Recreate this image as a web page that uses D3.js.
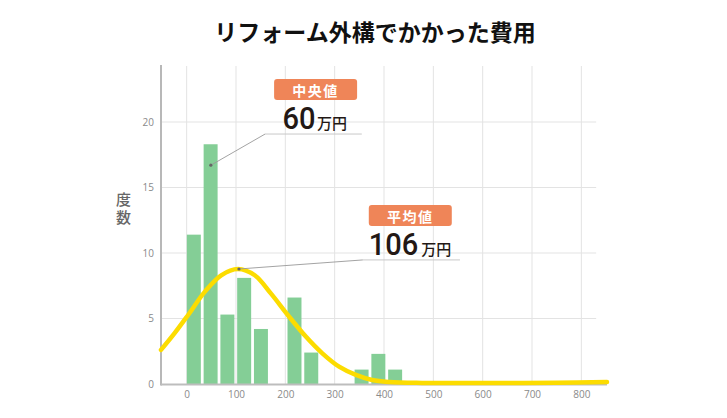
<!DOCTYPE html>
<html><head><meta charset="utf-8">
<script src="https://cdn.jsdelivr.net/npm/d3@7/dist/d3.min.js"></script>
<style>body{margin:0;background:#fff}svg{display:block}</style>
</head><body>
<svg id="c" width="727" height="418"></svg>
<script>
const title = "リフォーム外構でかかった費用";
const yLabel = "度数";
const xTicks = [0,100,200,300,400,500,600,700,800];
const yTicks = [0,5,10,15,20];
const binWidth = 34;
const binStarts = [0,34,68,102,136,170,204,238,272,306,340,374,408];
const binCounts = [11.4,18.3,5.3,8.1,4.2,0,6.6,2.4,0,0,1.1,2.3,1.1];
const curveX = [-52,-24,3,37,70,104,138,171,205,242,275,309,343,376,410,477,550,650,750,852];
const curveY = [2.6,3.9,5.27,7.05,8.3,8.78,8.3,6.9,5.27,3.6,2.34,1.32,0.69,0.3,0.15,0.08,0.07,0.08,0.1,0.15];
const annLabels = ["中央値","平均値"];
const annValues = ["60","106"];
const annUnits = ["万円","万円"];
const annDotX = [49,106];
const annDotY = [16.7,8.78];
const annElbowX = [159,357];
const annElbowY = [19.08,9.47];
const annEndX = [355,554];

const svg = d3.select("#c");
const L = 161, R = 607, T = 65, B = 384;
const x = d3.scaleLinear().domain([-52,852]).range([L,R]);
const y = d3.scaleLinear().domain([0,24.35]).range([B,T]);

// title
svg.append("text").attr("x",375).attr("y",31).attr("text-anchor","middle")
  .attr("dominant-baseline","central")
  .style("font-family","'Noto Sans CJK JP','Noto Sans',sans-serif")
  .style("font-weight","700").style("font-size","23px").attr("fill","#111").text(title);

// grid
const g = svg.append("g");
g.selectAll(".vg").data(xTicks).join("line")
  .attr("x1",d=>x(d)).attr("x2",d=>x(d)).attr("y1",B).attr("y2",T+1)
  .attr("stroke","#e3e3e3").attr("stroke-width",1);
g.selectAll(".hg").data(yTicks.filter(d=>d>0)).join("line")
  .attr("x1",L).attr("x2",x(830)).attr("y1",d=>y(d)).attr("y2",d=>y(d))
  .attr("stroke","#e3e3e3").attr("stroke-width",1);

// bars
svg.append("g").selectAll("rect").data(binStarts.map((s,i)=>({s,c:binCounts[i]})).filter(d=>d.c>0))
  .join("rect")
  .attr("x",d=>x(d.s)+0.2).attr("width",d=>x(d.s+binWidth)-x(d.s)-2.8)
  .attr("y",d=>y(d.c)).attr("height",d=>B-y(d.c)).attr("fill","#84ce96");

// axes lines
svg.append("line").attr("x1",L).attr("x2",L).attr("y1",T).attr("y2",B+1.5)
  .attr("stroke","#b8b8b8").attr("stroke-width",2);
svg.append("line").attr("x1",L).attr("x2",R).attr("y1",B+0.5).attr("y2",B+0.5)
  .attr("stroke","#bdbdbd").attr("stroke-width",2);

// tick labels via axes
const xa = svg.append("g").attr("transform",`translate(0,${B})`)
  .call(d3.axisBottom(x).tickValues(xTicks).tickSize(0).tickPadding(7));
const ya = svg.append("g").attr("transform",`translate(${L-7},0)`)
  .call(d3.axisLeft(y).tickValues(yTicks).tickSize(0).tickPadding(0));
[xa,ya].forEach(a=>{
  a.select(".domain").remove();
  a.selectAll("text").style("font-family","'Open Sans','Noto Sans',sans-serif")
    .style("font-size","10px").attr("fill","#8a8a8a");
});

// y label (vertical)
svg.append("text").attr("x",123.5).attr("y",192)
  .attr("writing-mode","tb").style("writing-mode","vertical-rl")
  .style("font-family","'Noto Sans CJK JP',sans-serif").style("font-size","15px")
  .style("letter-spacing","3px").style("font-weight","500").attr("fill","#666").text(yLabel);

// curve
const pts = curveX.map((v,i)=>[v,curveY[i]]);
svg.append("path").datum(pts)
  .attr("d",d3.line().x(d=>x(d[0])).y(d=>y(d[1])).curve(d3.curveCatmullRom.alpha(0.5)))
  .attr("fill","none").attr("stroke","#fcdc00").attr("stroke-width",4.5)
  .attr("stroke-linecap","round");

// annotations
annLabels.forEach((lab,i)=>{
  const a = svg.append("g");
  const ex = x(annElbowX[i]), ey = y(annElbowY[i]);
  a.append("line").attr("x1",ex).attr("x2",x(annEndX[i])).attr("y1",ey).attr("y2",ey)
    .attr("stroke","#c8c8c8").attr("stroke-width",1);
  a.append("line").attr("x1",x(annDotX[i])).attr("y1",y(annDotY[i])).attr("x2",ex).attr("y2",ey)
    .attr("stroke","#999").attr("stroke-width",0.9);
  a.append("circle").attr("cx",x(annDotX[i])).attr("cy",y(annDotY[i])).attr("r",1.6).attr("fill","#666");
  const bx = ex + (i===0?9:6);
  const by = ey - 55;
  a.append("rect").attr("x",bx).attr("y",by).attr("width",83).attr("height",21).attr("rx",3)
    .attr("fill","#ef8558");
  a.append("text").attr("x",bx+41.5).attr("y",by+11).attr("text-anchor","middle")
    .attr("dominant-baseline","central")
    .style("font-family","'Noto Sans CJK JP',sans-serif").style("font-size","14px")
    .style("font-weight","700").style("letter-spacing","1.5px").attr("fill","#fff").text(lab);
  const nx = bx + (i===0?8.5:0);
  const numW = annValues[i].length*16.5;
  a.append("text").attr("x",nx).attr("y",ey-5)
    .style("font-family","Roboto,'Noto Sans',sans-serif").style("font-size","32px")
    .style("font-weight","500")
    .attr("fill","#231815").attr("textLength",numW).attr("lengthAdjust","spacingAndGlyphs")
    .text(annValues[i]);
  a.append("text").attr("x",nx+numW+(i===0?1.5:3)).attr("y",ey-5)
    .style("font-family","'Noto Sans CJK JP',sans-serif").style("font-size","15px")
    .style("font-weight","500").attr("fill","#231815").text(annUnits[i]);
});
</script>
</body></html>
